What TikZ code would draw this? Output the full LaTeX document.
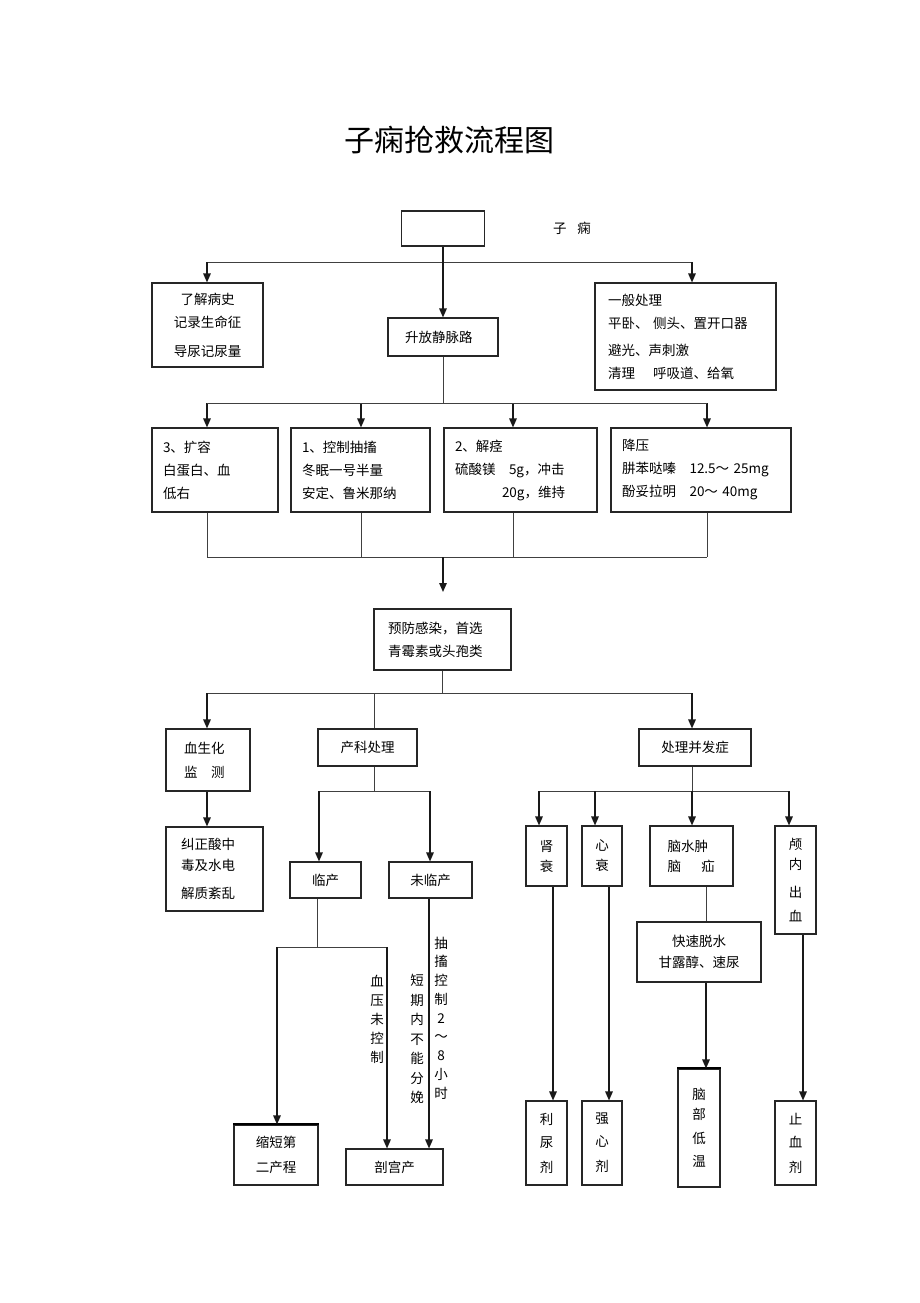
\documentclass[tikz,border=0pt]{standalone}
\usepackage{fontspec}
\setmainfont{Noto Sans CJK SC}
\usetikzlibrary{arrows.meta}

\begin{document}
\begin{tikzpicture}[x=1pt,y=-1pt,
    box/.style={draw=black!85, line width=1.1pt, inner sep=0pt, align=center,
      font=\fontsize{13.5}{23}\selectfont},
    lbox/.style={box, align=left},
    link/.style={draw=black!75, line width=0.9pt},
    arr/.style={draw=black!90, line width=1.4pt, -{Triangle[length=9pt,width=7.5pt]}},
    vtext/.style={inner sep=0pt, align=center, font=\fontsize{13.5}{19}\selectfont}]
    \useasboundingbox (0,0) rectangle (920,1303);

    \node[font=\fontsize{30}{36}\selectfont] (title) at (449,140) {子痫抢救流程图};
    \node[box, minimum width=83pt, minimum height=35pt] (top) at (443,228.5) {};
    \node[font=\fontsize{13.5}{16}\selectfont] (lbl) at (572,228) {子\hspace{0.8em}痫};

    \node[box, minimum width=111pt, minimum height=84pt] (hist) at (207.5,325)
      {了解病史\\记录生命征\\[6pt]导尿记尿量};
    \node[lbox, minimum height=38pt, inner xsep=17pt, text width=76pt] (iv) at (443,337) {升放静脉路};
    \node[lbox, minimum height=107pt, inner xsep=13pt, text width=155pt] (gen) at (685.5,336.5)
      {一般处理\\平卧、 侧头、置开口器\\[4pt]避光、声刺激\\清理　 呼吸道、给氧};

    \node[lbox, minimum height=84pt, inner xsep=11pt, text width=104pt] (vol) at (215,470)
      {3、扩容\\白蛋白、血\\低右};
    \node[lbox, minimum height=84pt, inner xsep=11pt, text width=117pt] (ctl) at (360.5,470)
      {1、控制抽搐\\冬眠一号半量\\安定、鲁米那纳};
    \node[lbox, minimum height=84pt, inner xsep=11pt, text width=131pt] (spa) at (520.5,470)
      {2、解痉\\硫酸镁　5g，冲击\\\hspace*{47pt}20g，维持};
    \node[lbox, minimum height=84pt, inner xsep=11pt, text width=158pt] (bp) at (701,470)
      {降压\\肼苯哒嗪　12.5～ 25mg\\酚妥拉明　20～ 40mg};

    \node[lbox, minimum height=61pt, inner xsep=14pt, text width=109pt] (inf) at (442.5,639.5)
      {预防感染，首选\\青霉素或头孢类};

    \node[lbox, minimum height=62pt, inner xsep=18pt, text width=48pt] (bio) at (208,760)
      {血生化\\[1pt]监　测};
    \node[box, minimum width=99pt, minimum height=37pt] (obs) at (367.5,747.5) {产科处理};
    \node[box, minimum width=112pt, minimum height=37pt] (comp) at (695,747.5) {处理并发症};
    \node[lbox, minimum height=84pt, inner xsep=15pt, text width=67pt] (acid) at (214.5,869)
      {纠正酸中\\[-2pt]毒及水电\\[5pt]解质紊乱};

    \node[box, minimum width=71pt, minimum height=36pt] (lab) at (325.5,880) {临产};
    \node[box, minimum width=83pt, minimum height=36pt] (nolab) at (430.5,880) {未临产};
    \node[box, minimum width=84pt, minimum height=60pt] (short) at (276,1155) {缩短第\\[2pt]二产程};
    \node[box, minimum width=97pt, minimum height=36pt] (cs) at (394.5,1167) {剖宫产};
    \node[vtext] (bpn) at (377,1019) {血\\压\\未\\控\\制};
    \node[vtext, font=\fontsize{13.5}{19.5}\selectfont] (dln) at (417,1039) {短\\期\\内\\不\\能\\分\\娩};
    \node[vtext, font=\fontsize{13.5}{18.75}\selectfont] (szn) at (441,1018) {抽\\搐\\控\\制\\2\\～\\8\\小\\时};

    \node[box, minimum width=41pt, minimum height=60pt] (kid) at (546.5,856) {肾\\[-3pt]衰};
    \node[box, minimum width=40pt, minimum height=60pt] (hrt) at (602,856) {心\\[-3pt]衰};
    \node[lbox, minimum height=60pt, inner xsep=17.5pt, text width=48pt] (edm) at (691.5,856)
      {脑水肿\\[-3pt]脑\hspace{1.5em}疝};
    \node[box, minimum width=41pt, minimum height=108pt] (ich) at (795.5,880)
      {颅\\[-3pt]内\\[5pt]出\\[1pt]血};
    \node[box, minimum width=124pt, minimum height=60pt] (dehy) at (699,952) {快速脱水\\[-2pt]甘露醇、速尿};
    \node[box, minimum width=42pt, minimum height=118pt] (cool) at (699,1128)
      {脑\\[-3pt]部\\[1pt]低\\温};
    \node[box, minimum width=41pt, minimum height=84pt] (diu) at (546.5,1143) {利\\尿\\[2pt]剂};
    \node[box, minimum width=40pt, minimum height=84pt] (ino) at (602,1143) {强\\心\\[2pt]剂};
    \node[box, minimum width=41pt, minimum height=84pt] (hem) at (795.5,1143) {止\\血\\[2pt]剂};
    \draw[line width=2pt] (short.north west) -- (short.north east);
    \draw[line width=2pt] (cool.north west) -- (cool.north east);

    \coordinate (j1l) at (207,262);
    \coordinate (j1r) at (692,262);
    \draw[link] (j1l) -- (j1r);
    \draw[arr] (top.south) -- (iv.north);
    \draw[arr] (j1l) -- (j1l |- hist.north);
    \draw[arr] (j1r) -- (j1r |- gen.north);

    \coordinate (j2) at (443,403);
    \coordinate (j3) at (443,557);
    \coordinate (j3end) at (443,592);
    \draw[link] (iv.south) -- (iv.south |- j2);
    \foreach \nm/\xx in {vol/207,ctl/361,spa/513,bp/707}{
      \coordinate (a\nm) at (\xx,403);
      \coordinate (b\nm) at (\xx,557);
      \draw[arr] (a\nm) -- (a\nm |- \nm.north);
      \draw[link] (a\nm |- \nm.south) -- (b\nm);
    }
    \draw[link] (avol) -- (abp);
    \draw[link] (bvol) -- (bbp);
    \draw[arr] (j3) -- (j3end);

    \coordinate (j4l) at (207,693);
    \coordinate (j4m) at (374,693);
    \coordinate (j4r) at (692,693);
    \draw[link] (inf.south) -- (inf.south |- j4l);
    \draw[link] (j4l) -- (j4r);
    \draw[arr] (j4l) -- (j4l |- bio.north);
    \draw[link] (j4m) -- (j4m |- obs.north);
    \draw[arr] (j4r) -- (j4r |- comp.north);
    \draw[arr] (j4l |- bio.south) -- (j4l |- acid.north);

    \coordinate (j5) at (374,791);
    \coordinate (j5l) at (319,791);
    \coordinate (j5r) at (430,791);
    \draw[link] (j4m |- obs.south) -- (j5);
    \draw[link] (j5l) -- (j5r);
    \draw[arr] (j5l) -- (j5l |- lab.north);
    \draw[arr] (j5r) -- (j5r |- nolab.north);
    \coordinate (j6) at (317,947);
    \coordinate (j6l) at (277,947);
    \coordinate (j6r) at (387,947);
    \draw[link] (j6 |- lab.south) -- (j6);
    \draw[link] (j6l) -- (j6r);
    \draw[arr] (j6l) -- (j6l |- short.north);
    \draw[arr] (j6r) -- (j6r |- cs.north);
    \coordinate (j7) at (429,0);
    \draw[arr] (j7 |- nolab.south) -- (j7 |- cs.north);

    \coordinate (c1) at (539,791);
    \coordinate (c2) at (595,791);
    \coordinate (c3) at (692,791);
    \coordinate (c4) at (789,791);
    \draw[link] (c3 |- comp.south) -- (c3);
    \draw[link] (c1) -- (c4);
    \draw[arr] (c1) -- (c1 |- kid.north);
    \draw[arr] (c2) -- (c2 |- hrt.north);
    \draw[arr] (c3) -- (c3 |- edm.north);
    \draw[arr] (c4) -- (c4 |- ich.north);

    \coordinate (d1) at (553,0);
    \coordinate (d2) at (609,0);
    \coordinate (d3) at (706,0);
    \coordinate (d4) at (803,0);
    \draw[arr] (d1 |- kid.south) -- (d1 |- diu.north);
    \draw[arr] (d2 |- hrt.south) -- (d2 |- ino.north);
    \draw[link] (d3 |- edm.south) -- (d3 |- dehy.north);
    \draw[arr] (d3 |- dehy.south) -- (d3 |- cool.north);
    \draw[arr] (d4 |- ich.south) -- (d4 |- hem.north);
\end{tikzpicture}
\end{document}
